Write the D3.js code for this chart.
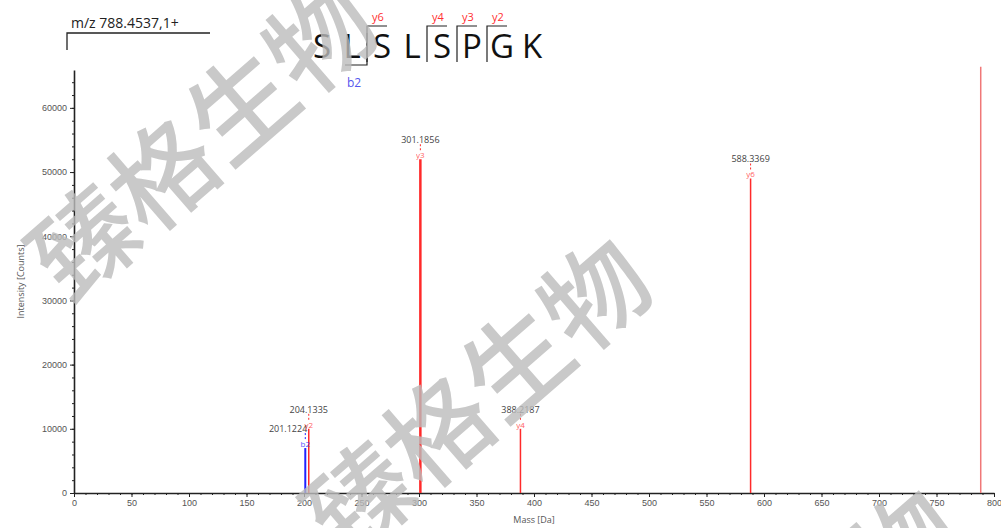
<!DOCTYPE html>
<html>
<head>
<meta charset="utf-8">
<script src="https://cdn.jsdelivr.net/npm/d3@7"></script>
<style>
  body { margin: 0; background: #fff; }
  svg { display: block; font-family: "Open Sans", "Noto Sans", sans-serif; }
  .axis path, .axis line { stroke: #222; }
  .axis text { fill: #555; font-size: 9px; }
</style>
</head>
<body>
<script>
// peaks: m/z, intensity, ion annotation
var peakMz = [201.1224, 204.1335, 301.1856, 388.2187, 588.3369, 788.4537];
var peakIntensity = [7000, 10000, 52000, 10000, 49000, 66400];
var peakIon = ["b2", "y2", "y3", "y4", "y6", ""];
var peakLabel = ["201.1224", "204.1335", "301.1856", "388.2187", "588.3369", ""];

// peptide sequence and matched fragments
var sequence = ["S", "L", "S", "L", "S", "P", "G", "K"];
var bFragments = [2];
var yFragments = [6, 4, 3, 2];

var title = "m/z 788.4537,1+";
var xTicks = d3.range(0, 801, 50);
var yTicks = [0, 10000, 20000, 30000, 40000, 50000, 60000];
var watermark = "臻格生物";

var W = 1001, H = 528;
var margin = { top: 70, right: 7, bottom: 35, left: 74 };

var svg = d3.select("body").append("svg")
    .attr("width", W)
    .attr("height", H);

var x = d3.scaleLinear().domain([0, 800]).range([margin.left, W - margin.right]);
var y = d3.scaleLinear().domain([0, 65900]).range([H - margin.bottom, margin.top]);

// minor ticks
svg.append("g")
    .attr("class", "axis")
    .attr("transform", "translate(0," + y(0) + ")")
    .call(d3.axisBottom(x).tickValues(d3.range(0, 801, 10)).tickSize(2).tickFormat(""))
    .call(function (g) { g.select(".domain").remove(); });
svg.append("g")
    .attr("class", "axis")
    .attr("transform", "translate(" + x(0) + ",0)")
    .call(d3.axisLeft(y).tickValues(d3.range(0, 65001, 2000)).tickSize(2).tickFormat(""))
    .call(function (g) { g.select(".domain").remove(); });

// x axis
svg.append("g")
    .attr("class", "axis")
    .attr("transform", "translate(0," + y(0) + ")")
    .call(d3.axisBottom(x).tickValues(xTicks).tickSize(4).tickSizeOuter(0).tickPadding(3).tickFormat(d3.format("d")))
    .call(function (g) { g.select(".domain").attr("stroke-width", 1.6); });

// y axis
svg.append("g")
    .attr("class", "axis")
    .attr("transform", "translate(" + x(0) + ",0)")
    .call(d3.axisLeft(y).tickValues(yTicks).tickSize(4).tickSizeOuter(0).tickPadding(3).tickFormat(d3.format("d")))
    .call(function (g) { g.select(".domain").attr("stroke-width", 1.6); });

svg.append("text")
    .attr("x", (x(0) + x(800)) / 2)
    .attr("y", 523)
    .attr("text-anchor", "middle")
    .attr("fill", "#555")
    .style("font-size", "9px")
    .text("Mass [Da]");

svg.append("text")
    .attr("transform", "translate(24," + ((y(0) + y(65900)) / 2) + ") rotate(-90)")
    .attr("text-anchor", "middle")
    .attr("fill", "#555")
    .style("font-size", "9px")
    .text("Intensity [Counts]");

// peaks
var peaks = peakMz.map(function (m, i) {
    return { mz: m, val: peakIntensity[i], ion: peakIon[i], label: peakLabel[i] };
});
var maxAnnotated = d3.max(peaks.filter(function (d) { return d.ion; }), function (d) { return d.val; });

function ionColor(ion) {
    if (!ion) return "#f07878";
    return ion[0] === "b" ? "#2020ff" : "#ff2a2a";
}
// label goes left when another peak sits just to the right
function crowded(d) {
    return peaks.some(function (p) { return p.mz > d.mz && p.mz - d.mz < 5; });
}

svg.append("g").selectAll("line")
    .data(peaks)
    .join("line")
    .attr("x1", function (d) { return x(d.mz); })
    .attr("x2", function (d) { return x(d.mz); })
    .attr("y1", y(0))
    .attr("y2", function (d) { return y(d.val); })
    .attr("stroke", function (d) { return ionColor(d.ion); })
    .attr("stroke-width", function (d) { return d.val === maxAnnotated ? 2.5 : (d.ion && d.ion[0] === "b" ? 2 : 1.5); });

var ann = svg.append("g").selectAll("g")
    .data(peaks.filter(function (d) { return d.ion; }))
    .join("g");

ann.append("line")
    .attr("x1", function (d) { return x(d.mz); })
    .attr("x2", function (d) { return x(d.mz); })
    .attr("y1", function (d) { return y(d.val) - 15; })
    .attr("y2", function (d) { return y(d.val) - 8; })
    .attr("stroke", function (d) { return ionColor(d.ion); })
    .attr("stroke-dasharray", "2,2");

ann.append("text")
    .attr("x", function (d) { return crowded(d) ? x(d.mz) + 2 : x(d.mz); })
    .attr("y", function (d) { return y(d.val) - 16; })
    .attr("text-anchor", function (d) { return crowded(d) ? "end" : "middle"; })
    .attr("fill", "#444")
    .style("font-size", "9px")
    .text(function (d) { return d.label; });

ann.append("text")
    .attr("x", function (d) { return x(d.mz); })
    .attr("y", function (d) { return y(d.val) - 1; })
    .attr("text-anchor", "middle")
    .attr("fill", function (d) { return ionColor(d.ion); })
    .attr("opacity", 0.75)
    .style("font-size", "8px")
    .text(function (d) { return d.ion; });

// precursor title with bracket
svg.append("text")
    .attr("x", 71)
    .attr("y", 28)
    .attr("fill", "#222")
    .style("font-size", "14px")
    .text(title);
svg.append("path")
    .attr("d", "M67,50V33H210")
    .attr("fill", "none")
    .attr("stroke", "#222")
    .attr("stroke-width", 1.3);

// sequence with fragment marks
var seqX = d3.scalePoint().domain(d3.range(sequence.length)).range([322, 532]);
svg.append("g").selectAll("text")
    .data(sequence)
    .join("text")
    .attr("x", function (d, i) { return seqX(i); })
    .attr("y", 58)
    .attr("text-anchor", "middle")
    .attr("fill", "#111")
    .style("font-size", "33px")
    .text(function (d) { return d; });

function breakX(after) { return (seqX(after - 1) + seqX(after)) / 2; }

yFragments.forEach(function (n) {
    var bx = breakX(sequence.length - n);
    svg.append("path")
        .attr("d", "M" + bx + ",62V26H" + (bx + 20))
        .attr("fill", "none")
        .attr("stroke", "#222")
        .attr("stroke-width", 1.2);
    svg.append("text")
        .attr("x", bx + 11)
        .attr("y", 21)
        .attr("text-anchor", "middle")
        .attr("fill", "#ff3030")
        .style("font-size", "11px")
        .text("y" + n);
});

bFragments.forEach(function (n) {
    var bx = breakX(n);
    svg.append("path")
        .attr("d", "M" + bx + ",33V65H" + (bx - 22))
        .attr("fill", "none")
        .attr("stroke", "#222")
        .attr("stroke-width", 1.2);
    svg.append("text")
        .attr("x", bx - 13)
        .attr("y", 87)
        .attr("text-anchor", "middle")
        .attr("fill", "#5555ee")
        .style("font-size", "12px")
        .text("b" + n);
});

// watermark
var marks = [[198, 135], [473, 392], [782, 643]];
svg.append("g").selectAll("text")
    .data(marks)
    .join("text")
    .attr("transform", function (d) { return "translate(" + d[0] + "," + d[1] + ") rotate(-41)"; })
    .attr("text-anchor", "middle")
    .attr("dominant-baseline", "central")
    .attr("fill", "#bcbcbc")
    .attr("opacity", 0.8)
    .style("font-family", "'Noto Sans CJK SC', sans-serif")
    .style("font-weight", "500")
    .style("font-size", "104px")
    .text(watermark);
</script>
</body>
</html>
